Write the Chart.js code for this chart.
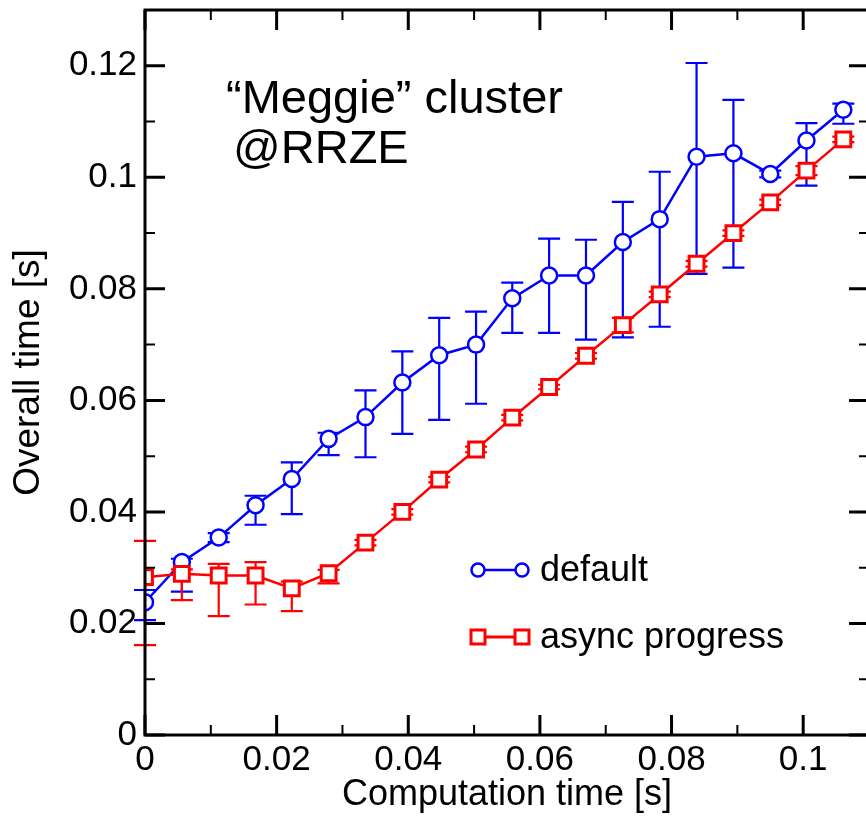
<!DOCTYPE html>
<html>
<head>
<meta charset="utf-8">
<script src="https://cdn.jsdelivr.net/npm/chart.js@4/dist/chart.umd.min.js"></script>
<style>
  html, body { margin: 0; padding: 0; background: #fff; overflow: hidden; }
  canvas { display: block; }
</style>
</head>
<body>
<canvas id="myChart" width="872" height="818"></canvas>
<script>
// computation time [s]
const compTime = [0, 0.0056, 0.0112, 0.0168, 0.0223, 0.0279, 0.0335, 0.0391, 0.0447, 0.0503,
                  0.0558, 0.0614, 0.067, 0.0726, 0.0782, 0.0838, 0.0894, 0.095, 0.1005, 0.1061];

// "default" series: overall time, with min / max error bars
const defaultMean = [0.0238, 0.0310, 0.0354, 0.0412, 0.0459, 0.0531, 0.0570, 0.0632, 0.0681, 0.0700,
                     0.0783, 0.0824, 0.0824, 0.0884, 0.0925, 0.1037, 0.1043, 0.1006, 0.1066, 0.1121];
const defaultHi   = [0.0260, 0.0316, 0.0362, 0.0429, 0.0489, 0.0542, 0.0618, 0.0688, 0.0748, 0.0759,
                     0.0811, 0.0890, 0.0888, 0.0956, 0.1010, 0.1205, 0.1139, 0.1012, 0.1097, 0.1132];
const defaultLo   = [0.0206, 0.0257, 0.0346, 0.0377, 0.0396, 0.0502, 0.0498, 0.0540, 0.0565, 0.0594,
                     0.0721, 0.0721, 0.0709, 0.0713, 0.0732, 0.0827, 0.0838, 0.1000, 0.0985, 0.1096];

// "async progress" series
const asyncMean = [0.0283, 0.0289, 0.0286, 0.0286, 0.0263, 0.0290, 0.0345, 0.0400, 0.0458, 0.0512,
                   0.0569, 0.0624, 0.0680, 0.0735, 0.0790, 0.0845, 0.0900, 0.0955, 0.1012, 0.1068];
const asyncHi   = [0.0348, 0.0297, 0.0307, 0.0310, 0.0275, 0.0296, 0.0350, 0.0405, 0.0463, 0.0517,
                   0.0574, 0.0628, 0.0685, 0.0748, 0.0795, 0.0850, 0.0905, 0.0960, 0.1020, 0.1073];
const asyncLo   = [0.0161, 0.0242, 0.0213, 0.0234, 0.0222, 0.0272, 0.0340, 0.0395, 0.0453, 0.0507,
                   0.0564, 0.0620, 0.0675, 0.0722, 0.0785, 0.0840, 0.0895, 0.0950, 0.1004, 0.1063];

const seriesLabels = ['default', 'async progress'];
const xTickValues = [0, 0.02, 0.04, 0.06, 0.08, 0.1];
const yTickValues = [0, 0.02, 0.04, 0.06, 0.08, 0.1, 0.12];
const noteLines = ['\u201cMeggie\u201d cluster', ' @RRZE'];

const FONT = '"Liberation Sans", Arial, Helvetica, sans-serif';
const BLUE = '#0000ff';
const RED = '#ff0000';

const toPoints = (ys) => ys.map((y, i) => ({ x: compTime[i], y: y }));
const errors = [
    { lo: defaultLo, hi: defaultHi, color: BLUE },
    { lo: asyncLo, hi: asyncHi, color: RED }
];

// error bars, drawn just before each dataset so markers sit on top
const errorBars = {
    id: 'errorBars',
    beforeDatasetDraw(chart, args) {
        const err = errors[args.index];
        const ctx = chart.ctx;
        const xs = chart.scales.x, ys = chart.scales.y;
        ctx.save();
        ctx.strokeStyle = err.color;
        ctx.lineWidth = 2.2;
        compTime.forEach((t, i) => {
            const px = xs.getPixelForValue(t);
            const top = ys.getPixelForValue(err.hi[i]);
            const bot = ys.getPixelForValue(err.lo[i]);
            ctx.beginPath();
            ctx.moveTo(px, top); ctx.lineTo(px, bot);
            ctx.moveTo(px - 11, top); ctx.lineTo(px + 11, top);
            ctx.moveTo(px - 11, bot); ctx.lineTo(px + 11, bot);
            ctx.stroke();
        });
        ctx.restore();
    }
};

// frame with inward ticks on all four sides
const frame = {
    id: 'frame',
    afterDraw(chart) {
        const ctx = chart.ctx;
        const a = chart.chartArea;
        const xs = chart.scales.x, ys = chart.scales.y;
        ctx.save();
        ctx.strokeStyle = '#000';
        ctx.lineWidth = 3;
        ctx.strokeRect(a.left, a.top, a.right - a.left, a.bottom - a.top);
        for (let k = 0; k <= 11; k++) {
            const v = k / 100;
            const major = k % 2 === 0;
            const len = major ? 20 : 10;
            ctx.lineWidth = major ? 3 : 2;
            const px = xs.getPixelForValue(v);
            ctx.beginPath();
            ctx.moveTo(px, a.bottom); ctx.lineTo(px, a.bottom - len);
            ctx.moveTo(px, a.top); ctx.lineTo(px, a.top + len);
            ctx.stroke();
        }
        for (let k = 0; k <= 13; k++) {
            const v = k / 100;
            const major = k % 2 === 0;
            const len = major ? 20 : 10;
            ctx.lineWidth = major ? 3 : 2;
            const py = ys.getPixelForValue(v);
            ctx.beginPath();
            ctx.moveTo(a.left, py); ctx.lineTo(a.left + len, py);
            ctx.moveTo(a.right, py); ctx.lineTo(a.right - len, py);
            ctx.stroke();
        }
        ctx.restore();
    }
};

// annotation text and the legend inside the plot
const notes = {
    id: 'notes',
    afterDraw(chart) {
        const ctx = chart.ctx;
        const a = chart.chartArea;
        ctx.save();
        ctx.fillStyle = '#000';
        ctx.textAlign = 'left';
        ctx.textBaseline = 'alphabetic';
        ctx.font = '47px ' + FONT;
        ctx.fillText(noteLines[0], a.left + 81, a.top + 103);
        ctx.fillText(noteLines[1], a.left + 75, a.top + 153);

        const items = [
            { color: BLUE, style: 'circle', y: a.top + 560 },
            { color: RED, style: 'rect', y: a.top + 627 }
        ];
        items.forEach((it, i) => {
            const x0 = a.left + 333, x1 = a.left + 377;
            ctx.strokeStyle = it.color;
            ctx.lineWidth = it.style === 'rect' ? 3 : 2.5;
            ctx.beginPath();
            ctx.moveTo(x0, it.y); ctx.lineTo(x1, it.y);
            ctx.stroke();
            [x0, x1].forEach(px => {
                ctx.fillStyle = '#fff';
                ctx.beginPath();
                if (it.style === 'circle') {
                    ctx.arc(px, it.y, 6.5, 0, Math.PI * 2);
                } else {
                    ctx.rect(px - 7, it.y - 7, 14, 14);
                }
                ctx.fill();
                ctx.stroke();
            });
            ctx.fillStyle = '#000';
            ctx.font = '36px ' + FONT;
            ctx.textBaseline = 'middle';
            ctx.fillText(seriesLabels[i], a.left + 395, it.y + 1);
        });
        ctx.restore();
    }
};

const fmt = v => String(+v.toFixed(2));

new Chart(document.getElementById('myChart').getContext('2d'), {
    type: 'line',
    data: {
        datasets: [
            {
                label: seriesLabels[0],
                data: toPoints(defaultMean),
                borderColor: BLUE,
                backgroundColor: '#fff',
                borderWidth: 2.5,
                pointStyle: 'circle',
                pointRadius: 8,
                pointBorderWidth: 2.5,
                pointBackgroundColor: '#fff',
                pointBorderColor: BLUE,
                tension: 0,
                order: 2
            },
            {
                label: seriesLabels[1],
                data: toPoints(asyncMean),
                borderColor: RED,
                backgroundColor: '#fff',
                borderWidth: 2.5,
                pointStyle: 'rect',
                pointRadius: 10.5,
                pointBorderWidth: 3,
                pointBackgroundColor: '#fff',
                pointBorderColor: RED,
                tension: 0,
                order: 1
            }
        ]
    },
    options: {
        responsive: false,
        animation: false,
        devicePixelRatio: 1,
        layout: { autoPadding: false, padding: { top: 10, right: 3, left: 0, bottom: 0 } },
        plugins: {
            legend: { display: false },
            tooltip: { enabled: false }
        },
        scales: {
            x: {
                type: 'linear',
                min: 0,
                max: 0.11,
                afterFit: s => { s.height = 83; s.paddingLeft = 0; s.paddingRight = 0; },
                afterBuildTicks: s => { s.ticks = xTickValues.map(v => ({ value: v })); },
                grid: { display: false, drawTicks: false },
                border: { display: false },
                ticks: {
                    padding: 4,
                    color: '#000',
                    font: { family: FONT, size: 35 },
                    maxRotation: 0,
                    callback: fmt
                },
                title: {
                    display: true,
                    text: 'Computation time [s]',
                    color: '#000',
                    font: { family: FONT, size: 36 },
                    padding: { top: 0, bottom: 1 }
                }
            },
            y: {
                type: 'linear',
                min: 0,
                max: 0.13,
                afterFit: s => { s.width = 145; s.paddingTop = 0; s.paddingBottom = 0; },
                afterBuildTicks: s => { s.ticks = yTickValues.map(v => ({ value: v })); },
                grid: { display: false, drawTicks: false },
                border: { display: false },
                ticks: {
                    padding: 8,
                    color: '#000',
                    font: { family: FONT, size: 35 },
                    callback: fmt
                },
                title: {
                    display: true,
                    text: 'Overall time [s]',
                    color: '#000',
                    font: { family: FONT, size: 37 },
                    padding: { top: 7, bottom: 0 }
                }
            }
        }
    },
    plugins: [errorBars, frame, notes]
});
</script>
</body>
</html>
